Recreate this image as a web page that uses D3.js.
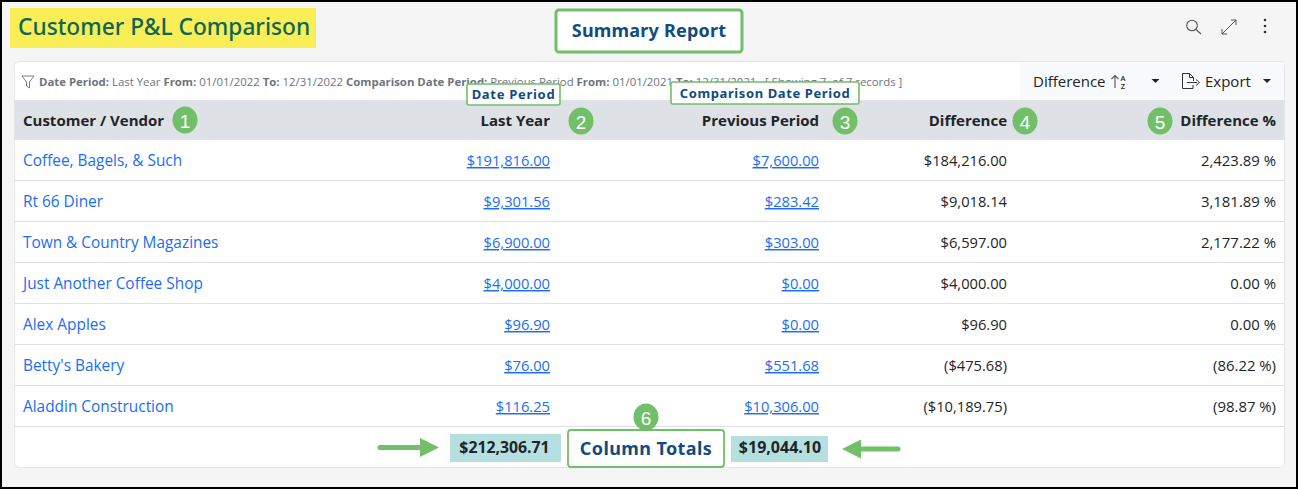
<!DOCTYPE html>
<html>
<head>
<meta charset="utf-8">
<script src="https://cdnjs.cloudflare.com/ajax/libs/d3/7.8.5/d3.min.js"></script>
<style>
  html, body { margin: 0; padding: 0; background: #f5f5f5; overflow: hidden; }
  text { font-family: "Open Sans", sans-serif; }
</style>
</head>
<body>
<div id="chart"></div>
<script>
const customers = ["Coffee, Bagels, & Such", "Rt 66 Diner", "Town & Country Magazines", "Just Another Coffee Shop", "Alex Apples", "Betty's Bakery", "Aladdin Construction"];
const lastYear = [191816.00, 9301.56, 6900.00, 4000.00, 96.90, 76.00, 116.25];
const previousPeriod = [7600.00, 283.42, 303.00, 0.00, 0.00, 551.68, 10306.00];
const difference = [184216.00, 9018.14, 6597.00, 4000.00, 96.90, -475.68, -10189.75];
const differencePct = [2423.89, 3181.89, 2177.22, 0.00, 0.00, -86.22, -98.87];
const columnHeaders = ["Customer / Vendor", "Last Year", "Previous Period", "Difference", "Difference %"];
const totals = ["$212,306.71", "$19,044.10"];
const filterParts = [
  ["Date Period: ", 1], ["Last Year ", 0], ["From: ", 1], ["01/01/2022 ", 0], ["To: ", 1], ["12/31/2022 ", 0],
  ["Comparison Date Period: ", 1], ["Previous Period ", 0], ["From: ", 1], ["01/01/2021 ", 0], ["To: ", 1], ["12/31/2021 ", 0],
  ["  [ Showing 7  of 7 records ]", 0]
];

const width = 1298, height = 489;
const green = "#72bf6a", navy = "#0f4c81", ink = "#212529", link = "#1a6dfa";

const svg = d3.select("#chart").append("svg")
  .attr("width", width).attr("height", height)
  .style("display", "block");

const fmt = d3.format(",.2f");
const money = v => v < 0 ? `($${fmt(-v)})` : `$${fmt(v)}`;
const pct = v => v < 0 ? `(${fmt(-v)} %)` : `${fmt(v)} %`;

// rows
const y = d3.scaleBand().domain(d3.range(customers.length)).range([140, 427]);
// right edge of each numeric column
const colX = d3.scaleOrdinal().domain(columnHeaders).range([23, 550, 819, 1007, 1276]);

svg.append("rect").attr("width", width).attr("height", height).attr("fill", "#f5f5f5");

// title
svg.append("rect").attr("x", 10).attr("y", 8).attr("width", 306).attr("height", 40).attr("fill", "#f9ee55");
svg.append("text").attr("x", 18).attr("y", 35).attr("font-size", 22.7).attr("font-weight", 500).attr("fill", "#0e6655")
  .style("font-family", "'Noto Sans'").text("Customer P&L Comparison");

// card
svg.append("rect").attr("x", 14.5).attr("y", 61.5).attr("width", 1270).attr("height", 406).attr("rx", 5)
  .attr("fill", "#fff").attr("stroke", "#e3e5e8");
svg.append("rect").attr("x", 1020).attr("y", 63).attr("width", 264).attr("height", 37).attr("fill", "#f8f9fa");

// filter line
svg.append("path").attr("d", "M22 76h12l-4.500 6v6l-3-2v-4z").attr("fill", "none").attr("stroke", "#6c757d").attr("stroke-width", 0.9);
const filter = svg.append("text").attr("x", 39).attr("y", 86).attr("font-size", 11.4).attr("fill", "#6c757d").attr("xml:space", "preserve");
filter.selectAll("tspan").data(filterParts).join("tspan")
  .attr("font-weight", d => d[1] ? 700 : 400)
  .text(d => d[0]);

// toolbar
svg.append("text").attr("x", 1033).attr("y", 87).attr("font-size", 15).attr("fill", ink).text("Difference");
svg.append("path").attr("d", "M1115 88V75.500 M1111.500 79l3.500-3.500l3.500 3.500").attr("fill", "none").attr("stroke", "#555").attr("stroke-width", 1.1);
svg.append("text").attr("x", 1123).attr("y", 81).attr("text-anchor", "middle").attr("font-size", 7.5).attr("font-weight", 600).attr("fill", ink).text("A");
svg.append("text").attr("x", 1123).attr("y", 88.500).attr("text-anchor", "middle").attr("font-size", 7.5).attr("font-weight", 600).attr("fill", ink).text("Z");
svg.append("path").attr("d", "M1151.500 79h8l-4 4z M1263 79h8l-4 4z").attr("fill", ink);
svg.append("path").attr("d", "M1193 85v3.500h-10.500v-15h7l4 4v3.500 M1189.500 73.500v4h4 M1187 82.500h10 M1196 79.500l3.500 3l-3.500 3")
  .attr("fill", "none").attr("stroke", "#333").attr("stroke-width", 1);
svg.append("text").attr("x", 1205).attr("y", 87).attr("font-size", 15).attr("fill", ink).text("Export");

// top right icons
svg.append("circle").attr("cx", 1192).attr("cy", 25.5).attr("r", 5.3).attr("fill", "none").attr("stroke", "#555").attr("stroke-width", 1.1);
svg.append("path").attr("d", "M1196 29.500l5 4.500").attr("stroke", "#555").attr("stroke-width", 1.1);
svg.append("path").attr("d", "M1222 34l14-14 M1231 20h5v5 M1222 29v5h5").attr("fill", "none").attr("stroke", "#555").attr("stroke-width", 1);
svg.append("g").selectAll("circle").data([20, 26, 32]).join("circle")
  .attr("cx", 1265).attr("cy", d => d).attr("r", 1.3).attr("fill", "#333");

// header band
svg.append("rect").attr("x", 15).attr("y", 100).attr("width", 1269).attr("height", 40).attr("fill", "#dee1e6");
svg.append("g").selectAll("text").data(columnHeaders).join("text")
  .attr("x", d => colX(d)).attr("y", 125.5)
  .attr("text-anchor", (d, i) => i ? "end" : "start")
  .attr("font-size", 15).attr("font-weight", 700).attr("fill", ink)
  .text(d => d);

// body rows
const rows = svg.append("g").selectAll("g").data(customers).join("g")
  .attr("transform", (d, i) => `translate(0,${y(i)})`);
rows.append("line").attr("x1", 15).attr("x2", 1284).attr("y1", y.bandwidth() - 0.5).attr("y2", y.bandwidth() - 0.5).attr("stroke", "#dee2e6");
rows.append("text").attr("x", colX(columnHeaders[0])).attr("y", 26).attr("font-size", 15.4).attr("fill", link).text(d => d);
rows.append("text").attr("x", colX(columnHeaders[1])).attr("y", 26).attr("text-anchor", "end").attr("font-size", 14.7)
  .attr("fill", link).attr("text-decoration", "underline").text((d, i) => money(lastYear[i]));
rows.append("text").attr("x", colX(columnHeaders[2])).attr("y", 26).attr("text-anchor", "end").attr("font-size", 14.7)
  .attr("fill", link).attr("text-decoration", "underline").text((d, i) => money(previousPeriod[i]));
rows.append("text").attr("x", colX(columnHeaders[3])).attr("y", 26).attr("text-anchor", "end").attr("font-size", 14.7)
  .attr("fill", ink).text((d, i) => money(difference[i]));
rows.append("text").attr("x", colX(columnHeaders[4])).attr("y", 26).attr("text-anchor", "end").attr("font-size", 14.9)
  .attr("fill", ink).text((d, i) => pct(differencePct[i]));

// totals
svg.append("rect").attr("x", 450).attr("y", 434).attr("width", 111).attr("height", 28).attr("fill", "#b5e0df");
svg.append("rect").attr("x", 731).attr("y", 436).attr("width", 97).attr("height", 26).attr("fill", "#b5e0df");
svg.append("text").attr("x", 504.5).attr("y", 453).attr("text-anchor", "middle").attr("font-size", 15.8).attr("font-weight", 700).attr("fill", ink).text(totals[0]);
svg.append("text").attr("x", 780).attr("y", 453).attr("text-anchor", "middle").attr("font-size", 16).attr("font-weight", 700).attr("fill", ink).text(totals[1]);

// annotations
function callout(x0, y0, w, h, label, size, sw, r, spacing) {
  svg.append("rect").attr("x", x0).attr("y", y0).attr("width", w).attr("height", h).attr("rx", r)
    .attr("fill", "#fff").attr("stroke", green).attr("stroke-width", sw);
  svg.append("text").attr("x", x0 + w / 2).attr("y", y0 + h / 2).attr("dy", "0.36em").attr("text-anchor", "middle")
    .attr("font-size", size).attr("font-weight", 700).attr("fill", navy).attr("letter-spacing", spacing)
    .style("font-family", "'Noto Sans'").text(label);
}
callout(556, 10, 186, 42, "Summary Report", 18, 3, 3, 0.2);
callout(467, 84, 93, 21, "Date Period", 13, 1.6, 2, 0.7);
callout(671, 82, 188, 22, "Comparison Date Period", 13, 1.6, 2, 0.6);
callout(568, 430, 156, 37, "Column Totals", 18, 1.8, 3, 0.4);

const badges = [[185, 120, "1"], [581, 121, "2"], [845, 121, "3"], [1025, 121, "4"], [1160, 121, "5"], [646, 417, "6"]];
const badge = svg.append("g").selectAll("g").data(badges).join("g")
  .attr("transform", d => `translate(${d[0]},${d[1]})`);
badge.append("ellipse").attr("rx", 12.5).attr("ry", 13.5).attr("fill", green);
badge.append("text").attr("y", 1).attr("dy", "0.36em").attr("text-anchor", "middle").attr("font-size", 19).attr("fill", "#fff")
  .style("font-family", "'Liberation Sans'").text(d => d[2]);

// arrows
svg.append("path").attr("d", "M380 447.500H422").attr("stroke", green).attr("stroke-width", 5).attr("stroke-linecap", "round");
svg.append("path").attr("d", "M420 438l19 9.500l-19 9.500z").attr("fill", green);
svg.append("path").attr("d", "M859 449H898").attr("stroke", green).attr("stroke-width", 5).attr("stroke-linecap", "round");
svg.append("path").attr("d", "M861 439.500l-19 9.500l19 9.500z").attr("fill", green);

// screenshot frame
svg.append("rect").attr("x", 1).attr("y", 1).attr("width", width - 2).attr("height", height - 2)
  .attr("fill", "none").attr("stroke", "#000").attr("stroke-width", 2);
</script>
</body>
</html>
